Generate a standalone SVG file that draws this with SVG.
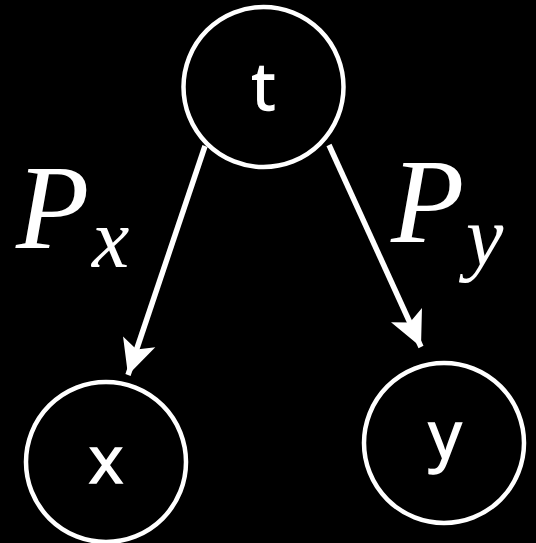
<svg xmlns="http://www.w3.org/2000/svg" width="536" height="543" viewBox="0 0 536 543">
<defs>
<style>
.node circle{fill:#000;stroke:#fff;stroke-width:4.5}
.lbl{font-family:"Open Sans","Noto Sans",sans-serif;font-size:66px;fill:#fff;stroke:#fff;stroke-width:1.5;text-anchor:middle}
.math{font-family:"Liberation Serif",serif;font-style:italic;fill:#fff}
.edge{stroke:#fff;stroke-width:5.5;fill:none}
</style>
<marker id="ah" markerUnits="userSpaceOnUse" viewBox="-36 -18 38 36" refX="0" refY="0" markerWidth="38" markerHeight="36" orient="auto">
<path d="M0,0 L-35,-17 L-27,0 L-35,17 Z" fill="#fff"/>
</marker>
</defs>
<rect width="536" height="543" fill="#000"/>
<g id="connectors">
<line class="edge" x1="205" y1="146" x2="128" y2="375" marker-end="url(#ah)"/>
<line class="edge" x1="329" y1="145" x2="421" y2="347" marker-end="url(#ah)"/>
</g>
<g id="node-t" class="node"><circle cx="263.5" cy="87" r="80"/><text class="lbl" x="263.5" y="110">t</text></g>
<g id="node-x" class="node"><circle cx="106" cy="462" r="80"/><text class="lbl" x="106" y="483">x</text></g>
<g id="node-y" class="node"><circle cx="444" cy="443" r="80"/><text class="lbl" x="445" y="458">y</text></g>
<g id="label-px"><text class="math" x="16" y="248" font-size="120">P</text><text class="math" x="92" y="267" font-size="84">x</text></g>
<g id="label-py"><text class="math" x="391" y="242" font-size="120">P</text><text class="math" x="466" y="265" font-size="84">y</text></g>
</svg>
